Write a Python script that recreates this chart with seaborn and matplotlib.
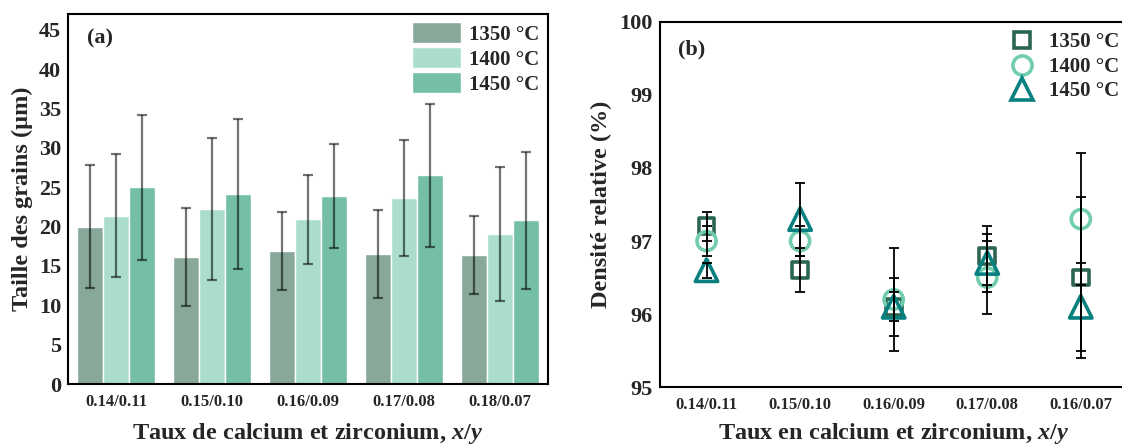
import numpy as np
import pandas as pd
import seaborn as sns
import matplotlib
matplotlib.use('Agg')
import matplotlib.pyplot as plt

sns.set_style('white')
plt.rcParams['font.family'] = ['Liberation Serif', 'DejaVu Serif']
plt.rcParams['font.weight'] = 'bold'
plt.rcParams['mathtext.fontset'] = 'custom'
plt.rcParams['mathtext.rm'] = 'Liberation Serif:bold'
plt.rcParams['mathtext.it'] = 'Liberation Serif:italic:bold'

# --- data ---
temps = ['1350 °C', '1400 °C', '1450 °C']
ratios_a = ['0.14/0.11', '0.15/0.10', '0.16/0.09', '0.17/0.08', '0.18/0.07']
ratios_b = ['0.14/0.11', '0.15/0.10', '0.16/0.09', '0.17/0.08', '0.16/0.07']

grain_1350 = [20.0, 16.1, 16.9, 16.5, 16.4]
grain_1400 = [21.4, 22.2, 20.9, 23.6, 19.1]
grain_1450 = [25.0, 24.1, 23.9, 26.5, 20.8]
grain_err_1350 = [7.8, 6.2, 5.0, 5.6, 5.0]
grain_err_1400 = [7.8, 9.0, 5.6, 7.4, 8.5]
grain_err_1450 = [9.2, 9.5, 6.6, 9.1, 8.7]

dens_1350 = [97.2, 96.6, 96.1, 96.8, 96.5]
dens_1400 = [97.0, 97.0, 96.2, 96.5, 97.3]
dens_1450 = [96.6, 97.3, 96.1, 96.7, 96.1]
dens_err_1350 = [0.2, 0.3, 0.2, 0.4, 1.1]
dens_err_1400 = [0.2, 0.2, 0.7, 0.5, 0.9]
dens_err_1450 = [0.1, 0.5, 0.4, 0.4, 0.6]

bar_colors = ['#88a89a', '#aadecb', '#74bfa5']
pt_colors = ['#2b6651', '#72cdb0', '#08807f']
pt_markers = ['s', 'o', '^']
pt_area = [130, 190, 260]

df_a = pd.DataFrame({
    'ratio': ratios_a * 3,
    'temp': np.repeat(temps, 5),
    'size': grain_1350 + grain_1400 + grain_1450,
    'err': grain_err_1350 + grain_err_1400 + grain_err_1450,
})
df_b = pd.DataFrame({
    'ratio': ratios_b * 3,
    'temp': np.repeat(temps, 5),
    'dens': dens_1350 + dens_1400 + dens_1450,
    'err': dens_err_1350 + dens_err_1400 + dens_err_1450,
})

fig = plt.figure(figsize=(11.22, 4.46), dpi=100)
ax1 = fig.add_axes([0.0606, 0.139, 0.4275, 0.8296])
ax2 = fig.add_axes([0.588, 0.132, 0.417, 0.819])

# ---------- (a) bars ----------
sns.barplot(data=df_a, x='ratio', y='size', hue='temp', palette=bar_colors,
            width=0.81, errorbar=None, ax=ax1, saturation=1)
for i, t in enumerate(temps):
    sub = df_a[df_a['temp'] == t]
    bars = ax1.containers[i]
    xs = [b.get_x() + b.get_width() / 2 for b in bars]
    ax1.errorbar(xs, sub['size'], yerr=sub['err'], fmt='none',
                 ecolor=(0, 0, 0, 0.55), elinewidth=1.6, capsize=3.5,
                 capthick=1.6, zorder=5)
ax1.set_xlim(-0.5, 4.5)
ax1.set_ylim(0, 47)
ax1.set_yticks(range(0, 50, 5))
ax1.set_xlabel('Taux de calcium et zirconium, $\\mathit{x/y}$', fontsize=17.5,
               fontweight='bold', labelpad=8)
ax1.set_ylabel('Taille des grains (µm)', fontsize=17.5, fontweight='bold', labelpad=4)
ax1.tick_params(axis='y', labelsize=16, direction='in', length=5.5, width=1.5, pad=5)
ax1.tick_params(axis='x', labelsize=12, direction='in', length=5.5, width=1.5, pad=7)
for lab in ax1.get_xticklabels() + ax1.get_yticklabels():
    lab.set_fontweight('bold')
for s in ax1.spines.values():
    s.set_linewidth(1.5)
    s.set_color('black')
ax1.legend(frameon=False, loc='upper right', fontsize=15, handlelength=2.35,
           handleheight=1.15, labelspacing=0.12, handletextpad=0.4,
           borderaxespad=0.1, borderpad=0.3)
ax1.text(0.067, 0.935, '(a)', transform=ax1.transAxes, fontsize=16,
         fontweight='bold', ha='center', va='center')

# ---------- (b) points ----------
sns.scatterplot(data=df_b, x='ratio', y='dens', hue='temp', style='temp', size='temp',
                palette=pt_colors, markers=dict(zip(temps, pt_markers)),
                sizes=dict(zip(temps, pt_area)), legend=False, ax=ax2, zorder=3)
for coll in ax2.collections:
    fc = coll.get_facecolors()
    coll.set_edgecolors(fc)
    coll.set_facecolors('none')
    coll.set_linewidth(2.6)
pos = np.arange(len(ratios_b))
for i, t in enumerate(temps):
    sub = df_b[df_b['temp'] == t]
    ax2.errorbar(pos, sub['dens'], yerr=sub['err'], fmt='none', ecolor='black',
                 elinewidth=1.3, capsize=3.5, capthick=1.3, zorder=4)
handles = [plt.Line2D([], [], ls='none', marker=m, ms=np.sqrt(a), mfc='none', mec=c, mew=2.6)
           for m, c, a in zip(pt_markers, pt_colors, pt_area)]
ax2.legend(handles, temps, frameon=False, loc='upper right', fontsize=15,
           labelspacing=0.22, handletextpad=0.3, borderaxespad=0.1,
           bbox_to_anchor=(1.004, 1.0))
ax2.set_xlim(-0.5, 4.5)
ax2.set_ylim(95, 100)
ax2.set_yticks([95, 96, 97, 98, 99, 100])
ax2.set_xlabel('Taux en calcium et zirconium, $\\mathit{x/y}$', fontsize=17.5,
               fontweight='bold', labelpad=6)
ax2.set_ylabel('Densité relative (%)', fontsize=17.5, fontweight='bold', labelpad=5)
ax2.tick_params(axis='y', labelsize=16, direction='in', length=5.5, width=1.5, pad=5)
ax2.tick_params(axis='x', labelsize=12, direction='in', length=5.5, width=1.5, pad=7)
for lab in ax2.get_xticklabels() + ax2.get_yticklabels():
    lab.set_fontweight('bold')
for s in ax2.spines.values():
    s.set_linewidth(1.5)
    s.set_color('black')
ax2.text(0.068, 0.923, '(b)', transform=ax2.transAxes, fontsize=16,
         fontweight='bold', ha='center', va='center')

fig.savefig('out.png', dpi=100)
